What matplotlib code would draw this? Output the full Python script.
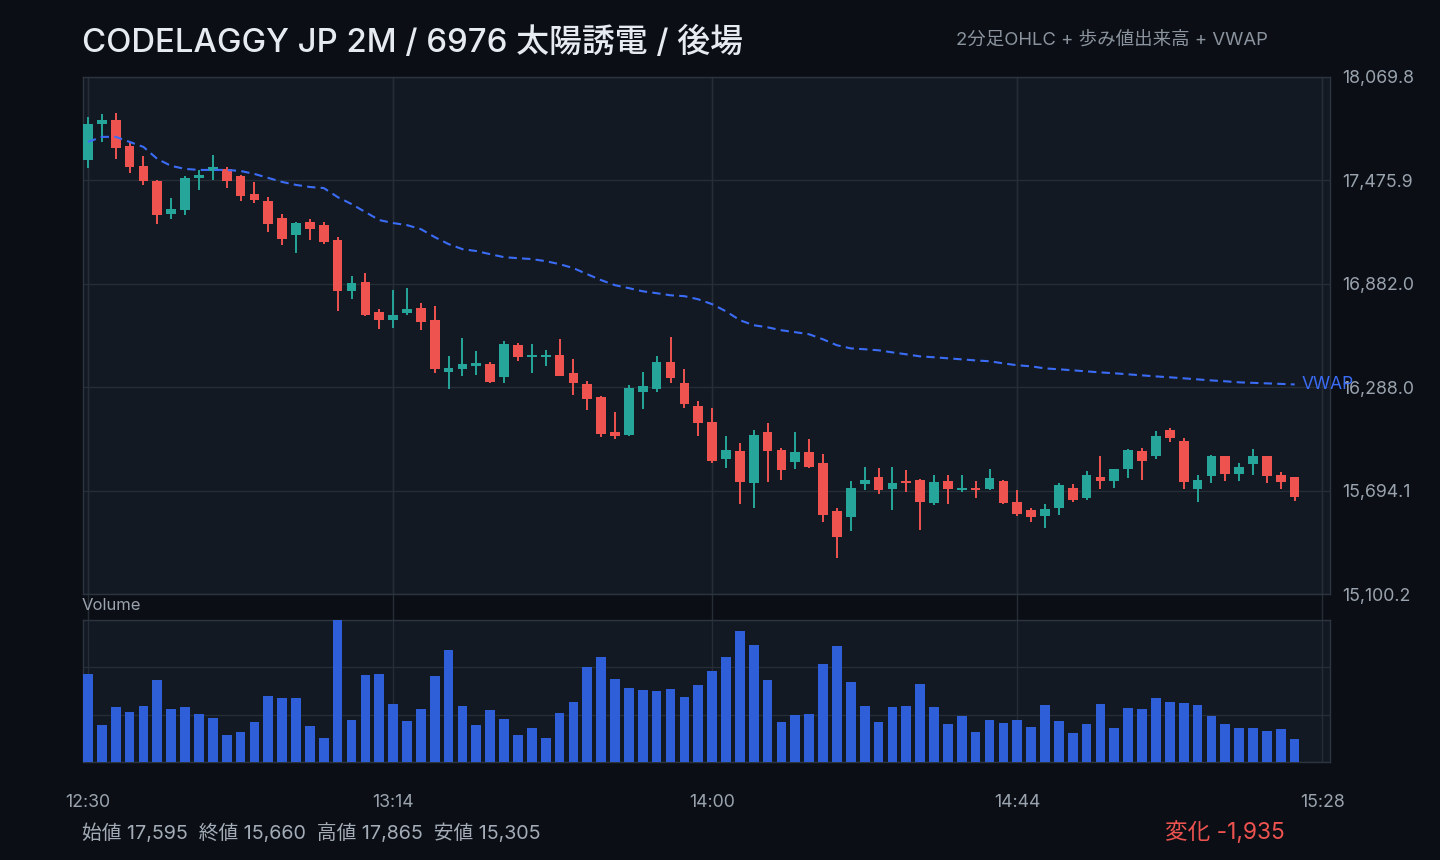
import matplotlib
matplotlib.use("Agg")
import matplotlib.pyplot as plt
from matplotlib.ticker import FuncFormatter
import numpy as np

# Latin glyphs from Inter, Japanese glyphs fall back to Noto Sans CJK JP
plt.rcParams['font.family'] = ['Inter', 'Noto Sans CJK JP', 'DejaVu Sans']

BG = '#0b0f15'
PANEL = '#121922'
GRID = '#252d37'
SPINE = '#2c343f'
TEXT = '#9aa3ae'
UP = '#26a69a'
DOWN = '#ef5350'
VOL = '#2f5fd8'
VWAP_C = '#3b6cf6'

# 2-minute bars from 12:30
session_start = "12:30"
bar_minutes = 2

opens = [17595, 17800, 17820, 17675, 17560, 17470, 17285, 17305, 17490, 17530,
         17540, 17500, 17395, 17355, 17260, 17160, 17235, 17220, 17135, 16840,
         16890, 16720, 16675, 16715, 16745, 16675, 16375, 16390, 16410, 16420,
         16345, 16530, 16460, 16460, 16475, 16370, 16305, 16230, 16030, 16015,
         16260, 16280, 16435, 16310, 16180, 16090, 15875, 15920, 15740, 16030,
         15930, 15860, 15915, 15850, 15575, 15545, 15730, 15775, 15705, 15750,
         15755, 15625, 15750, 15695, 15710, 15705, 15750, 15630, 15580, 15550,
         15595, 15710, 15650, 15770, 15750, 15820, 15920, 15895, 16040, 15980,
         15705, 15780, 15890, 15790, 15845, 15890, 15785, 15770]
highs = [17840, 17855, 17865, 17690, 17615, 17480, 17375, 17500, 17535, 17620,
         17555, 17505, 17465, 17380, 17285, 17235, 17255, 17235, 17150, 16925,
         16945, 16740, 16845, 16855, 16770, 16755, 16465, 16570, 16495, 16435,
         16555, 16540, 16535, 16500, 16565, 16450, 16325, 16240, 16145, 16300,
         16375, 16465, 16575, 16390, 16210, 16170, 16010, 15970, 16045, 16080,
         15940, 16030, 15990, 15905, 15595, 15750, 15830, 15825, 15830, 15815,
         15760, 15785, 15785, 15785, 15750, 15820, 15755, 15695, 15595, 15620,
         15740, 15730, 15805, 15895, 15820, 15935, 15940, 16035, 16055, 15995,
         15785, 15900, 15895, 15850, 15935, 15895, 15800, 15770]
lows = [17545, 17695, 17600, 17520, 17450, 17225, 17255, 17275, 17420, 17480,
        17430, 17355, 17345, 17180, 17105, 17060, 17135, 17110, 16725, 16795,
        16695, 16625, 16630, 16700, 16615, 16370, 16280, 16355, 16360, 16310,
        16315, 16440, 16370, 16410, 16350, 16245, 16155, 16000, 15990, 16010,
        16160, 16260, 16315, 16170, 16010, 15850, 15825, 15620, 15595, 15745,
        15755, 15820, 15825, 15515, 15305, 15460, 15700, 15675, 15585, 15685,
        15470, 15610, 15615, 15685, 15650, 15700, 15615, 15550, 15515, 15480,
        15555, 15630, 15640, 15705, 15710, 15765, 15755, 15875, 15975, 15705,
        15630, 15740, 15750, 15750, 15785, 15740, 15705, 15635]
closes = [17800, 17820, 17660, 17555, 17470, 17275, 17310, 17490, 17505, 17555,
          17470, 17385, 17365, 17225, 17140, 17230, 17195, 17120, 16840, 16885,
          16705, 16675, 16705, 16740, 16660, 16390, 16400, 16420, 16425, 16320,
          16535, 16460, 16475, 16475, 16355, 16310, 16220, 16020, 16010, 16285,
          16295, 16435, 16340, 16190, 16085, 15865, 15930, 15745, 16015, 15920,
          15815, 15915, 15830, 15555, 15430, 15710, 15755, 15700, 15740, 15735,
          15630, 15745, 15705, 15710, 15695, 15765, 15625, 15560, 15540, 15590,
          15725, 15640, 15785, 15750, 15820, 15930, 15865, 16010, 15995, 15745,
          15755, 15890, 15790, 15830, 15895, 15780, 15745, 15660]
vwap = [17697, 17726, 17726, 17697, 17668, 17599, 17559, 17542, 17536, 17536,
        17536, 17530, 17513, 17490, 17467, 17450, 17438, 17432, 17380, 17340,
        17294, 17248, 17231, 17219, 17196, 17150, 17110, 17081, 17070, 17052,
        17035, 17029, 17024, 17012, 16995, 16972, 16937, 16903, 16874, 16857,
        16839, 16828, 16816, 16811, 16793, 16765, 16724, 16673, 16644, 16632,
        16615, 16604, 16592, 16563, 16529, 16511, 16506, 16500, 16488, 16477,
        16465, 16460, 16454, 16448, 16442, 16437, 16425, 16414, 16408, 16396,
        16391, 16385, 16379, 16373, 16368, 16362, 16356, 16350, 16345, 16339,
        16333, 16327, 16322, 16316, 16313, 16310, 16307, 16304]
# volume in units of 100 shares
volume = [444, 184, 279, 249, 284, 414, 264, 279, 239, 219,
          134, 149, 199, 334, 324, 324, 179, 119, 714, 209,
          439, 444, 294, 204, 264, 434, 564, 284, 184, 259,
          214, 134, 169, 119, 244, 304, 479, 529, 419, 374,
          364, 359, 369, 329, 389, 459, 529, 659, 589, 414,
          199, 234, 239, 494, 584, 404, 284, 199, 279, 284,
          394, 279, 189, 229, 149, 209, 194, 209, 174, 289,
          204, 144, 189, 294, 169, 274, 264, 324, 304, 299,
          289, 229, 189, 169, 169, 154, 164, 114]

xtick_labels = ["12:30", "13:14", "14:00", "14:44", "15:28"]
yticks = [18069.8, 17475.9, 16882.0, 16288.0, 15694.1, 15100.2]


def minutes_from_start(label):
    h0, m0 = map(int, session_start.split(":"))
    h, m = map(int, label.split(":"))
    return (h * 60 + m) - (h0 * 60 + m0)


o = np.array(opens)
h = np.array(highs)
l = np.array(lows)
c = np.array(closes)
t = np.arange(len(opens)) * bar_minutes
xticks = [minutes_from_start(s) for s in xtick_labels]
colors = np.where(c >= o, UP, DOWN)

W, H = 1440, 860
fig = plt.figure(figsize=(W / 100, H / 100), dpi=100, facecolor=BG)
ax = fig.add_axes([83 / W, 1 - 594 / H, (1330 - 83) / W, (594 - 77) / H])
axv = fig.add_axes([83 / W, 1 - 762 / H, (1330 - 83) / W, (762 - 620) / H], sharex=ax)

for a in (ax, axv):
    a.set_facecolor(PANEL)
    for s in a.spines.values():
        s.set_color(SPINE)
        s.set_linewidth(1)
    a.grid(True, color=GRID, lw=1, zorder=0)
    a.set_axisbelow(True)

# price panel
ax.vlines(t, l, h, colors=colors, lw=1.4, zorder=3)
ax.bar(t, np.maximum(np.abs(c - o), 12), bottom=np.minimum(o, c), width=1.4,
       color=colors, zorder=4)
ax.plot(t, vwap, color=VWAP_C, lw=1.5, ls=(0, (4, 2.5)), zorder=5)
ax.annotate("VWAP", (t[-1], vwap[-1]), xytext=(5, 0), textcoords='offset points',
            color=VWAP_C, fontsize=12.5, va='center', ha='left',
            annotation_clip=False, zorder=6)

# vertical grid continues through the gap between panels
for x in xticks:
    ax.axvline(x, ymin=-0.0503, ymax=1, color=GRID, lw=1, clip_on=False, zorder=0)

ax.set_xlim(-0.72, 179.1)
ax.set_ylim(yticks[-1], yticks[0])
ax.set_yticks(yticks)
ax.yaxis.tick_right()
ax.yaxis.set_major_formatter(FuncFormatter(lambda v, p: f"{v:,.1f}"))
ax.tick_params(axis='y', length=0, pad=8.6, labelsize=12.8, labelcolor=TEXT)
ax.tick_params(axis='x', length=0, labelbottom=False)

# volume panel
axv.bar(t, volume, width=1.4, color=VOL, zorder=3)
vmax = max(volume)
axv.set_ylim(0, vmax)
axv.set_yticks(np.linspace(0, vmax, 4))
axv.tick_params(axis='y', length=0, labelleft=False, labelright=False)
axv.set_xticks(xticks)
axv.set_xticklabels(xtick_labels)
axv.tick_params(axis='x', length=0, pad=23, labelsize=12.8, labelcolor=TEXT)

# texts
fig.text(82 / W, 1 - 52 / H, "CODELAGGY JP 2M / 6976 太陽誘電 / 後場",
         color='#e6ebf1', fontsize=23.7, fontweight='medium', va='baseline', ha='left')
fig.text(1268 / W, 1 - 40 / H, "2分足OHLC + 歩み値出来高 + VWAP",
         color='#8b949e', fontsize=13.3, va='center', ha='right')
fig.text(82 / W, 1 - 606 / H, "Volume", color=TEXT, fontsize=12, va='center', ha='left')

stats = (f"始値 {opens[0]:,}  終値 {closes[-1]:,}  "
         f"高値 {max(highs):,}  安値 {min(lows):,}")
fig.text(82 / W, 1 - 833 / H, stats, color='#a3acb7', fontsize=14.2, va='center', ha='left')
change = closes[-1] - opens[0]
fig.text(1285 / W, 1 - 833 / H, f"変化 {change:,}", color=DOWN if change < 0 else UP,
         fontsize=16.3, va='center', ha='right')

fig.savefig("out.png", dpi=100, facecolor=BG)
